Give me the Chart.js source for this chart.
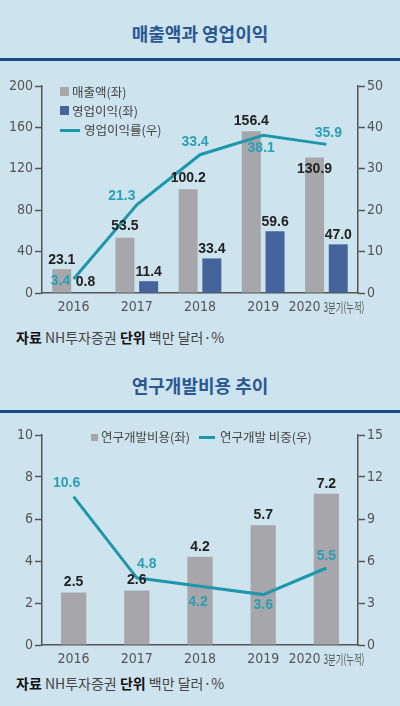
<!DOCTYPE html>
<html>
<head>
<meta charset="utf-8">
<script src="https://cdn.jsdelivr.net/npm/chart.js@4.4.0/dist/chart.umd.js"></script>
<style>
body { margin: 0; width: 400px; height: 706px; overflow: hidden; position: relative; background: #cde3ed; font-family: "Noto Sans CJK KR", sans-serif; }
.title { position: absolute; left: 0; width: 400px; text-align: center; font-weight: bold; font-size: 18px; color: #2b5892; line-height: 24px; }
.rule { position: absolute; left: 0; width: 400px; height: 3px; background: #1b4a85; }
.src { position: absolute; left: 16px; font-size: 14px; color: #444; line-height: 20px; white-space: nowrap; }
.src b { color: #111; }
.leg { position: absolute; font-size: 12.5px; color: #444; line-height: 18px; white-space: nowrap; }
.sq { position: absolute; }
.ln { position: absolute; height: 3px; background: #1e97ab; }
canvas { position: absolute; left: 0; }
</style>
</head>
<body>
<div class="title" style="top:21px">매출액과 영업이익</div>
<div class="rule" style="top:58px"></div>
<canvas id="salesChart" width="400" height="250" style="top:70px"></canvas>
<div class="sq" style="left:60px;top:87px;width:9px;height:9px;background:#a7a7ab"></div>
<div class="leg" style="left:72px;top:83px">매출액(좌)</div>
<div class="sq" style="left:60px;top:106px;width:9px;height:9px;background:#45649c"></div>
<div class="leg" style="left:72px;top:102px">영업이익(좌)</div>
<div class="ln" style="left:60px;top:129px;width:20px"></div>
<div class="leg" style="left:84px;top:121px">영업이익률(우)</div>
<div class="src" style="top:327px"><b>자료</b> NH투자증권 <b>단위</b> 백만 달러·%</div>

<div class="title" style="top:373px">연구개발비용 추이</div>
<div class="rule" style="top:410px"></div>
<canvas id="rndChart" width="400" height="250" style="top:420px"></canvas>
<div class="sq" style="left:91px;top:434px;width:7px;height:7px;background:#a7a7ab"></div>
<div class="leg" style="left:101px;top:428px">연구개발비용(좌)</div>
<div class="ln" style="left:199px;top:436px;width:16px"></div>
<div class="leg" style="left:220px;top:428px">연구개발 비중(우)</div>
<div class="src" style="top:673px"><b>자료</b> NH투자증권 <b>단위</b> 백만 달러·%</div>

<script>
// Data
const years = ['2016', '2017', '2018', '2019', ['2020', '3분기(누적)']];
const sales = [23.1, 53.5, 100.2, 156.4, 130.9];
const opProfit = [0.8, 11.4, 33.4, 59.6, 47.0];
const opMargin = [3.4, 21.3, 33.4, 38.1, 35.9];
const rndCost = [2.5, 2.6, 4.2, 5.7, 7.2];
const rndShare = [10.6, 4.8, 4.2, 3.6, 5.5];

const GRAY = '#a7a7ab';
const NAVY = '#45649c';
const TEAL = '#1e97ab';
const TEAL_TEXT = '#2a9fb6';
const AXIS = '#555';
const NARROW = '"Liberation Sans Narrow", "DejaVu Sans Condensed", sans-serif';

// value labels, offsets per dataset
const valueLabels = {
    id: 'valueLabels',
    afterDatasetsDraw(chart, args, opts) {
        const ctx = chart.ctx;
        chart.data.datasets.forEach((ds, i) => {
            const meta = chart.getDatasetMeta(i);
            const off = opts.offsets[i];
            ctx.save();
            ctx.font = 'bold 14px "Liberation Sans", Arial, sans-serif';
            ctx.fillStyle = opts.colors[i];
            ctx.textAlign = 'center';
            ctx.textBaseline = 'middle';
            meta.data.forEach((el, j) => {
                ctx.fillText(ds.data[j].toFixed(1), el.x + off[j][0], el.y + off[j][1]);
            });
            ctx.restore();
        });
    }
};

// x labels drawn by hand so the last one can be condensed
const xLabels = {
    id: 'xLabels',
    afterDraw(chart) {
        const ctx = chart.ctx;
        const xs = chart.scales.x;
        const y = xs.top + 14;
        ctx.save();
        ctx.fillStyle = AXIS;
        ctx.textBaseline = 'middle';
        chart.data.labels.forEach((lab, i) => {
            const x = xs.getPixelForTick(i);
            if (Array.isArray(lab)) {
                ctx.font = '14px ' + NARROW;
                const w1 = ctx.measureText(lab[0]).width;
                ctx.font = '13px "Noto Sans CJK KR", sans-serif';
                const w2 = ctx.measureText(lab[1]).width * 0.64;
                const total = w1 + 3 + w2;
                let sx = x - total / 2;
                ctx.textAlign = 'left';
                ctx.font = '14px ' + NARROW;
                ctx.fillText(lab[0], sx, y);
                ctx.save();
                ctx.translate(sx + w1 + 3, y);
                ctx.scale(0.64, 1);
                ctx.font = '13px "Noto Sans CJK KR", sans-serif';
                ctx.fillText(lab[1], 0, 0);
                ctx.restore();
            } else {
                ctx.textAlign = 'center';
                ctx.font = '14px ' + NARROW;
                ctx.fillText(lab, x, y);
            }
        });
        ctx.restore();
    }
};

function yAxis(pos, max, step, width) {
    return {
        position: pos,
        min: 0,
        max: max,
        ticks: { stepSize: step, color: AXIS, padding: 2, font: { family: NARROW, size: 14 } },
        grid: { drawOnChartArea: false, drawTicks: true, tickLength: 7, tickColor: AXIS, tickWidth: 1.5 },
        border: { display: true, color: AXIS, width: 1.5 },
        afterFit: (s) => { s.width = width; }
    };
}

function xAxis(height) {
    return {
        ticks: { display: false },
        grid: { display: false },
        border: { display: true, color: AXIS, width: 1.5 },
        afterFit: (s) => { s.height = height; }
    };
}

new Chart(document.getElementById('salesChart'), {
    type: 'bar',
    data: {
        labels: years,
        datasets: [
            { type: 'line', label: '영업이익률(우)', data: opMargin, yAxisID: 'y1', borderColor: TEAL, borderWidth: 3, pointRadius: 0, tension: 0, order: 0 },
            { label: '매출액(좌)', data: sales, backgroundColor: GRAY, yAxisID: 'y', categoryPercentage: 0.75, barPercentage: 0.8, order: 1 },
            { label: '영업이익(좌)', data: opProfit, backgroundColor: NAVY, yAxisID: 'y', categoryPercentage: 0.75, barPercentage: 0.8, order: 1 }
        ]
    },
    options: {
        responsive: false,
        animation: false,
        devicePixelRatio: 1,
        layout: { padding: { top: 16, left: 0, right: 0, bottom: 0 } },
        plugins: {
            legend: { display: false },
            tooltip: { enabled: false },
            valueLabels: {
                colors: [TEAL_TEXT, '#222', '#222'],
                offsets: [
                    [[-13, 2], [-15, -9], [-5, -13], [-2, 13], [2, -11]],
                    [[0, -9], [0, -11], [0, -11], [0, -10], [0, 12]],
                    [[0, -10], [0, -9], [0, -9], [0, -9], [0, -9]]
                ]
            }
        },
        scales: {
            x: xAxis(27),
            y: yAxis('left', 200, 40, 42),
            y1: yAxis('right', 50, 10, 42)
        }
    },
    plugins: [valueLabels, xLabels]
});

new Chart(document.getElementById('rndChart'), {
    type: 'bar',
    data: {
        labels: years,
        datasets: [
            { type: 'line', label: '연구개발 비중(우)', data: rndShare, yAxisID: 'y1', borderColor: TEAL, borderWidth: 3, pointRadius: 0, tension: 0, order: 0 },
            { label: '연구개발비용(좌)', data: rndCost, backgroundColor: GRAY, yAxisID: 'y', categoryPercentage: 0.5, barPercentage: 0.8, order: 1 }
        ]
    },
    options: {
        responsive: false,
        animation: false,
        devicePixelRatio: 1,
        layout: { padding: { top: 15, left: 0, right: 0, bottom: 0 } },
        plugins: {
            legend: { display: false },
            tooltip: { enabled: false },
            valueLabels: {
                colors: [TEAL_TEXT, '#222'],
                offsets: [
                    [[-7, -13], [10, -14], [-2, 16], [0, 11], [0, -12]],
                    [[0, -10], [0, -10], [0, -10], [0, -10], [0, -10]]
                ]
            }
        },
        scales: {
            x: xAxis(25),
            y: yAxis('left', 10, 2, 42),
            y1: yAxis('right', 15, 3, 42)
        }
    },
    plugins: [valueLabels, xLabels]
});
</script>
</body>
</html>
